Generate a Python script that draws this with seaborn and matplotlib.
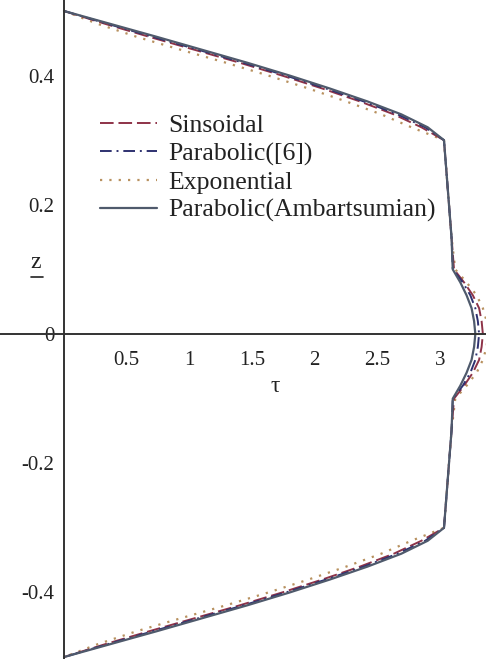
import matplotlib
matplotlib.use("Agg")
import matplotlib.pyplot as plt
from matplotlib.lines import Line2D
import seaborn as sns
import pandas as pd

# ---- data ----
z = [0.50, 0.48, 0.46, 0.44, 0.42, 0.40, 0.38, 0.36, 0.34, 0.32, 0.30,
     0.25, 0.20, 0.15, 0.10,
     0.08, 0.06, 0.04, 0.02, 0.00, -0.02, -0.04, -0.06, -0.08,
     -0.10, -0.15, -0.20, -0.25,
     -0.30, -0.32, -0.34, -0.36, -0.38, -0.40, -0.42, -0.44, -0.46, -0.48, -0.50]

tau_sinusoidal = [0.00, 0.33, 0.68, 1.04, 1.40, 1.74, 2.06, 2.36, 2.63, 2.85, 3.03,
                  3.05, 3.07, 3.09, 3.11,
                  3.19, 3.26, 3.31, 3.33, 3.34, 3.33, 3.31, 3.26, 3.19,
                  3.11, 3.09, 3.07, 3.05,
                  3.03, 2.85, 2.63, 2.36, 2.06, 1.74, 1.40, 1.04, 0.68, 0.33, 0.00]

tau_parabolic6 = [0.00, 0.35, 0.71, 1.07, 1.43, 1.77, 2.09, 2.39, 2.66, 2.88, 3.03,
                  3.05, 3.07, 3.09, 3.10,
                  3.18, 3.24, 3.28, 3.30, 3.31, 3.30, 3.28, 3.24, 3.18,
                  3.10, 3.09, 3.07, 3.05,
                  3.03, 2.88, 2.66, 2.39, 2.09, 1.77, 1.43, 1.07, 0.71, 0.35, 0.00]

tau_exponential = [0.00, 0.27, 0.58, 0.93, 1.29, 1.63, 1.95, 2.25, 2.53, 2.77, 3.03,
                   3.05, 3.07, 3.09, 3.12,
                   3.21, 3.29, 3.34, 3.37, 3.38, 3.37, 3.34, 3.29, 3.21,
                   3.12, 3.09, 3.07, 3.05,
                   3.03, 2.77, 2.53, 2.25, 1.95, 1.63, 1.29, 0.93, 0.58, 0.27, 0.00]

tau_ambartsumian = [0.00, 0.37, 0.74, 1.10, 1.46, 1.80, 2.12, 2.42, 2.69, 2.90, 3.03,
                    3.05, 3.07, 3.09, 3.10,
                    3.16, 3.21, 3.25, 3.27, 3.28, 3.27, 3.25, 3.21, 3.16,
                    3.10, 3.09, 3.07, 3.05,
                    3.03, 2.90, 2.69, 2.42, 2.12, 1.80, 1.46, 1.10, 0.74, 0.37, 0.00]

labels = ["Sinsoidal", "Parabolic([6])", "Exponential", "Parabolic(Ambartsumian)"]
x_ticks = [0.5, 1, 1.5, 2, 2.5, 3]
x_tick_labels = ["0.5", "1", "1.5", "2", "2.5", "3"]
y_ticks = [0.4, 0.2, 0, -0.2, -0.4]
y_tick_labels = ["0.4", "0.2", "0", "-0.2", "-0.4"]

# ---- style ----
sns.set_theme(style="white")
plt.rcParams["font.family"] = ["Liberation Serif", "DejaVu Serif"]

W, H = 486, 659
fig = plt.figure(figsize=(W / 100, H / 100), dpi=100)
ax = fig.add_axes([0, 0, 1, 1])

series = [
    (tau_exponential, labels[2], "#B8915F", (0, (1.0, 3.2)), 1.6),
    (tau_sinusoidal, labels[0], "#8E3348", (0, (7, 2.5)), 1.4),
    (tau_parabolic6, labels[1], "#2E3170", (0, (6, 2.5, 1, 2.5)), 1.4),
    (tau_ambartsumian, labels[3], "#4F5A6C", "-", 1.6),
]
handles = {}
for tau, lab, col, ls, lw in series:
    df = pd.DataFrame({"tau": tau, "z": z})
    sns.lineplot(data=df, x="tau", y="z", sort=False, estimator=None,
                 color=col, linestyle=ls, linewidth=lw, ax=ax, label=lab)
    handles[lab] = ax.get_lines()[-1]

ax.set_xlim(-0.51, 3.365)
ax.set_ylim(-0.503, 0.517)

for s in ["top", "right"]:
    ax.spines[s].set_visible(False)
ax.spines["left"].set_position(("data", 0))
ax.spines["bottom"].set_position(("data", 0))
for s in ["left", "bottom"]:
    ax.spines[s].set_color("#333333")
    ax.spines[s].set_linewidth(1.4)

ax.set_xticks(x_ticks)
ax.set_xticklabels(x_tick_labels)
ax.set_yticks(y_ticks)
ax.set_yticklabels(y_tick_labels)
ax.tick_params(axis="x", length=0, pad=12, labelsize=15, colors="#222222")
ax.tick_params(axis="y", length=0, pad=7, labelsize=15, colors="#222222")
ax.set_xlabel("")
ax.set_ylabel("")

# axis names: underlined z and tau
ax.text(36 / W, 1 - 263 / H, "z", fontsize=17, ha="center", va="center",
        color="#222222", transform=ax.transAxes)
fig.add_artist(Line2D([31 / W, 43 / W], [1 - 277 / H, 1 - 277 / H],
                      transform=fig.transFigure, color="#222222", lw=1.2))
ax.text(275 / W, 1 - 387 / H, "τ", fontsize=17, ha="center", va="center",
        color="#222222", transform=ax.transAxes)

leg = ax.legend([handles[l] for l in labels], labels,
                loc="upper left", bbox_to_anchor=(100 / W, 1 - 114 / H),
                frameon=False, fontsize=18.5, borderpad=0, borderaxespad=0,
                handlelength=2.2, handletextpad=0.45, labelspacing=0.2)
for t in leg.get_texts():
    t.set_color("#222222")

fig.savefig("out.png", dpi=100)
